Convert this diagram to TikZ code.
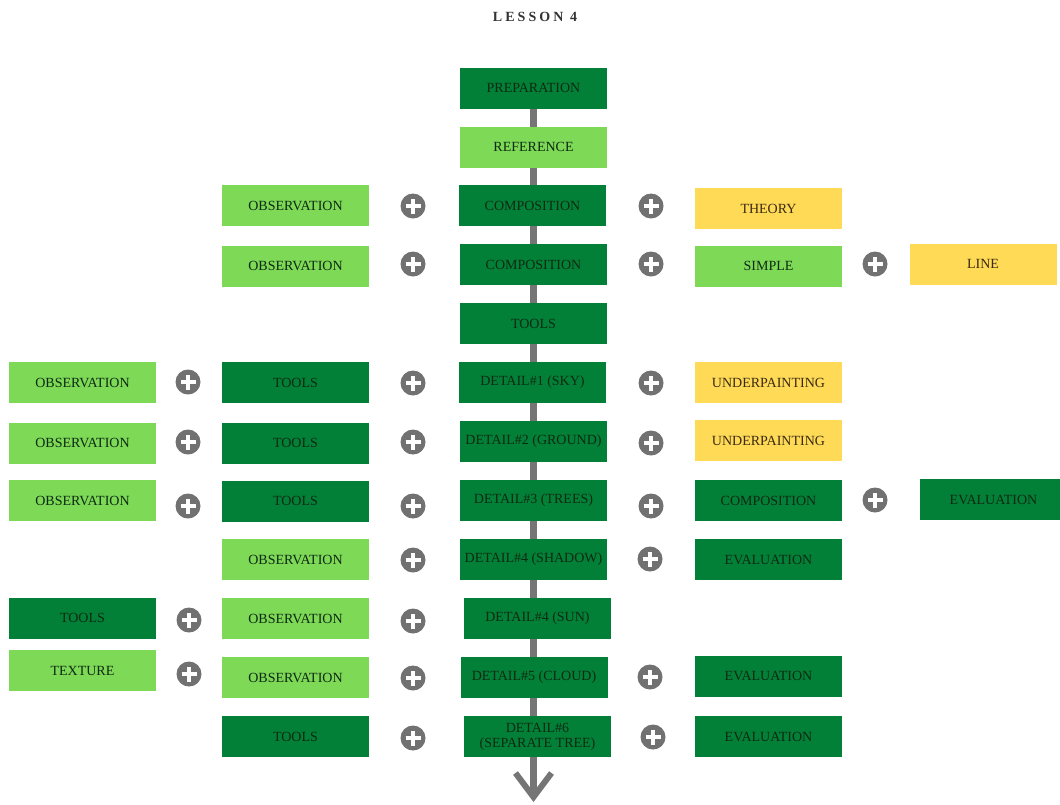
\documentclass[tikz,border=0pt]{standalone}
\usepackage{fontspec}
\setmainfont{Liberation Serif}
\usetikzlibrary{backgrounds}

\definecolor{dkgreen}{HTML}{038037}
\definecolor{ltgreen}{HTML}{7ED957}
\definecolor{sunny}{HTML}{FFDA57}
\definecolor{iconGray}{HTML}{717171}
\definecolor{spineGray}{HTML}{757575}
\definecolor{inkGreen}{HTML}{0D2A12}
\definecolor{inkBrown}{HTML}{3A2A10}

\tikzset{
  box/.style={rectangle, inner sep=0pt, minimum width=147pt, minimum height=41pt,
    align=center, font=\fontsize{14}{14.5}\selectfont},
  dk/.style={box, fill=dkgreen, text=inkGreen},
  lt/.style={box, fill=ltgreen, text=inkGreen},
  yl/.style={box, fill=sunny, text=inkBrown},
  addicon/.style={circle, fill=iconGray, minimum size=25pt, inner sep=0pt,
    path picture={
      \draw[white, line width=4.5pt]
        ([xshift=-7.5pt]path picture bounding box.center) -- ([xshift=7.5pt]path picture bounding box.center)
        ([yshift=-7.5pt]path picture bounding box.center) -- ([yshift=7.5pt]path picture bounding box.center);
    }},
  spine/.style={draw=spineGray, line width=7pt},
}

\begin{document}
\begin{tikzpicture}[x=1pt, y=-1pt]
\useasboundingbox (0,0) rectangle (1060,804);

% title
\node[font=\fontsize{14}{14}\selectfont\bfseries\addfontfeatures{LetterSpace=22}, text=black!80] (title) at (535,17) {LESSON 4};

% main column
\node[dk] (p1)  at (533.5,88)    {PREPARATION};
\node[lt] (p2)  at (533.5,147)   {REFERENCE};
\node[dk] (p3)  at (532.5,205.5) {COMPOSITION};
\node[dk] (p4)  at (533.5,264.5) {COMPOSITION};
\node[dk] (p5)  at (533.5,323.5) {TOOLS};
\node[dk] (p6)  at (532.5,382.5) {DETAIL\#1 (SKY)};
\node[dk] (p7)  at (533.5,441.5) {DETAIL\#2 (GROUND)};
\node[dk] (p8)  at (533.5,500.5) {DETAIL\#3 (TREES)};
\node[dk] (p9)  at (533.5,559.5) {DETAIL\#4 (SHADOW)};
\node[dk] (p10) at (537.5,618.5) {DETAIL\#4 (SUN)};
\node[dk] (p11) at (534,677.5)   {DETAIL\#5 (CLOUD)};
\node[dk, font=\fontsize{14}{15}\selectfont] (p12) at (537.5,736.5) {DETAIL\#6\\(SEPARATE TREE)};

% second column on the left
\node[lt] (l3)  at (295.5,205.5) {OBSERVATION};
\node[lt] (l4)  at (295.5,266)   {OBSERVATION};
\node[dk] (l6)  at (295.5,382.5) {TOOLS};
\node[dk] (l7)  at (295.5,443)   {TOOLS};
\node[dk] (l8)  at (295.5,501)   {TOOLS};
\node[lt] (l9)  at (295.5,559.5) {OBSERVATION};
\node[lt] (l10) at (295.5,618.5) {OBSERVATION};
\node[lt] (l11) at (295.5,677.5) {OBSERVATION};
\node[dk] (l12) at (295.5,736.5) {TOOLS};

% outer column on the left
\node[lt] (ll6)  at (82.5,382.5) {OBSERVATION};
\node[lt] (ll7)  at (82.5,443)   {OBSERVATION};
\node[lt] (ll8)  at (82.5,500.5) {OBSERVATION};
\node[dk] (ll10) at (82.5,618)   {TOOLS};
\node[lt] (ll11) at (82.5,670.5) {TEXTURE};

% column on the right
\node[yl] (r3)  at (768.5,208.5) {THEORY};
\node[lt] (r4)  at (768.5,266)   {SIMPLE};
\node[yl] (r6)  at (768.5,382.5) {UNDERPAINTING};
\node[yl] (r7)  at (768.5,440.5) {UNDERPAINTING};
\node[dk] (r8)  at (768.5,500.5) {COMPOSITION};
\node[dk] (r9)  at (768.5,559.5) {EVALUATION};
\node[dk] (r11) at (768.5,676)   {EVALUATION};
\node[dk] (r12) at (768.5,736.5) {EVALUATION};

% outer column on the right
\node[yl] (rr4) at (983,264)   {LINE};
\node[dk] (rr8) at (993.5,499.5) {EVALUATION};

% plus icons
\foreach \px/\py/\nm in {
  413/206/a3, 651/206/b3,
  413/264/a4, 651/264/b4, 875/264/c4,
  188/382/z6, 413/383/a6, 651/383/b6,
  188/442/z7, 413/442/a7, 651/443/b7,
  188/506/z8, 413/506/a8, 651/506/b8, 875/500/c8,
  413/560/a9, 650/559/b9,
  189/620/z10, 413/621/a10,
  189/674/z11, 413/678/a11, 650/677/b11,
  413/738/a12, 653/737/b12}
  \node[addicon] (plus-\nm) at (\px,\py) {};

% vertical spine with its arrow head
\coordinate (tip) at (533.5,797);
\begin{scope}[on background layer]
  \draw[spine] (p1.south) -- (tip);
\end{scope}
\draw[spine, line width=6pt, line join=miter]
  ([xshift=-18pt, yshift=24pt]tip) -- (tip) -- ([xshift=18pt, yshift=24pt]tip);
\end{tikzpicture}
\end{document}
